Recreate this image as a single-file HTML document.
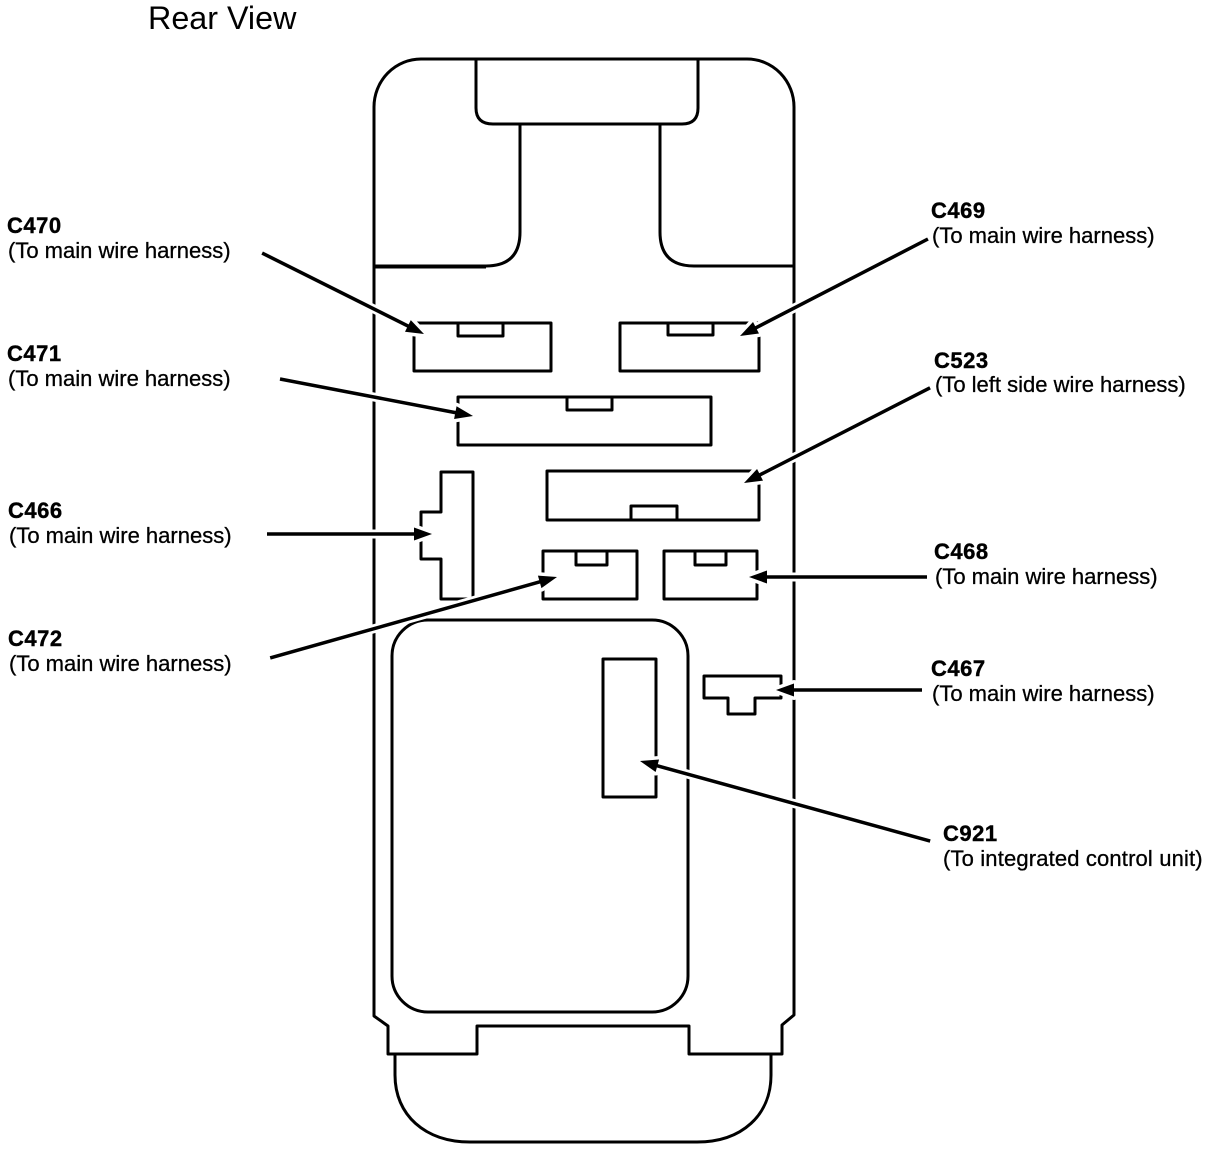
<!DOCTYPE html>
<html><head><meta charset="utf-8"><style>
html,body{margin:0;padding:0;background:#fff}
svg{display:block}
text{font-family:"Liberation Sans",sans-serif;font-size:22px;fill:#000;stroke:#000;stroke-width:.3px}
.b{font-weight:bold;letter-spacing:.5px;stroke-width:.4px}
.s{fill:none;stroke:#000;stroke-width:3;stroke-linejoin:round}
.h line{stroke:#fff;stroke-width:9}
.h path{fill:#fff;stroke:#fff;stroke-width:7;stroke-linejoin:round}
.k line{stroke:#000;stroke-width:3.5}
.k path{fill:#000}
</style></head><body>
<svg width="1216" height="1150" viewBox="0 0 1216 1150" xmlns="http://www.w3.org/2000/svg">
<text x="148" y="29" style="font-size:32.3px;stroke-width:0">Rear View</text>

<path class="s" d="M421 59H747A47 48 0 0 1 794 107V1015L782 1025V1054H689V1026H477V1054H388V1026L374 1016V107A47 48 0 0 1 421 59Z"/>
<path class="s" d="M476 59V108Q476 124 493 124H682Q698 124 698 108V59"/>
<path class="s" d="M520 124V232Q520 266 486 266H374M660 124V232Q660 266 694 266H794"/>
<path class="s" d="M374 267H486M694 266H794"/>
<path class="s" d="M395 1054V1075C395 1115 425 1142 470 1142H697C742 1142 771 1115 771 1075V1054"/>
<path class="s" d="M414 323H551V371H414ZM458 323V336H503V323"/>
<path class="s" d="M620 323H759V371H620ZM668 323V335H713V323"/>
<path class="s" d="M458 397H711V445H458ZM567 397V410H612V397"/>
<path class="s" d="M547 471H759V520H547ZM631 520V506H677V520"/>
<path class="s" d="M441 472H473V599H441V559H421V512H441Z"/>
<path class="s" d="M543 551H637V599H543ZM576 551V565H607V551"/>
<path class="s" d="M664 551H757V599H664ZM695 551V565H726V551"/>
<rect class="s" x="392" y="620" width="296" height="392" rx="36"/>
<rect class="s" x="603" y="659" width="53" height="138"/>
<path class="s" d="M704 676H781V698H755V714H728V698H704Z"/>

<g class="h">
<g transform="translate(424 334) rotate(26.57)"><line x1="-175" x2="-10"/><path d="M0 0L-18 -6.5V6.5Z"/></g>
<g transform="translate(740 336) rotate(152.7)"><line x1="-205" x2="-10"/><path d="M0 0L-18 -6.5V6.5Z"/></g>
<g transform="translate(473 416) rotate(10.85)"><line x1="-190" x2="-10"/><path d="M0 0L-18 -6.5V6.5Z"/></g>
<g transform="translate(744 483) rotate(152.9)"><line x1="-203" x2="-10"/><path d="M0 0L-18 -6.5V6.5Z"/></g>
<g transform="translate(432 534)"><line x1="-160" x2="-10"/><path d="M0 0L-18 -6.5V6.5Z"/></g>
<g transform="translate(557 577) rotate(-15.76)"><line x1="-292" x2="-10"/><path d="M0 0L-18 -6.5V6.5Z"/></g>
<g transform="translate(749 577) rotate(180)"><line x1="-172" x2="-10"/><path d="M0 0L-18 -6.5V6.5Z"/></g>
<g transform="translate(776 690) rotate(180)"><line x1="-140" x2="-10"/><path d="M0 0L-18 -6.5V6.5Z"/></g>
<g transform="translate(640 761) rotate(195.42)"><line x1="-295" x2="-10"/><path d="M0 0L-18 -6.5V6.5Z"/></g>
</g>
<g class="k">
<g transform="translate(424 334) rotate(26.57)"><line x1="-181" x2="-10"/><path d="M0 0L-18 -6.5V6.5Z"/></g>
<g transform="translate(740 336) rotate(152.7)"><line x1="-211.5" x2="-10"/><path d="M0 0L-18 -6.5V6.5Z"/></g>
<g transform="translate(473 416) rotate(10.85)"><line x1="-196.5" x2="-10"/><path d="M0 0L-18 -6.5V6.5Z"/></g>
<g transform="translate(744 483) rotate(152.9)"><line x1="-209" x2="-10"/><path d="M0 0L-18 -6.5V6.5Z"/></g>
<g transform="translate(432 534)"><line x1="-165" x2="-10"/><path d="M0 0L-18 -6.5V6.5Z"/></g>
<g transform="translate(557 577) rotate(-15.76)"><line x1="-298" x2="-10"/><path d="M0 0L-18 -6.5V6.5Z"/></g>
<g transform="translate(749 577) rotate(180)"><line x1="-178" x2="-10"/><path d="M0 0L-18 -6.5V6.5Z"/></g>
<g transform="translate(776 690) rotate(180)"><line x1="-146" x2="-10"/><path d="M0 0L-18 -6.5V6.5Z"/></g>
<g transform="translate(640 761) rotate(195.42)"><line x1="-301" x2="-10"/><path d="M0 0L-18 -6.5V6.5Z"/></g>
</g>

<text class="b" x="7" y="233">C470</text><text x="8" y="258">(To main wire harness)</text>
<text class="b" x="7" y="361">C471</text><text x="8" y="386">(To main wire harness)</text>
<text class="b" x="8" y="518">C466</text><text x="9" y="543">(To main wire harness)</text>
<text class="b" x="8" y="646">C472</text><text x="9" y="671">(To main wire harness)</text>
<text class="b" x="931" y="218">C469</text><text x="932" y="243">(To main wire harness)</text>
<text class="b" x="934" y="368">C523</text><text x="935" y="392">(To left side wire harness)</text>
<text class="b" x="934" y="559">C468</text><text x="935" y="584">(To main wire harness)</text>
<text class="b" x="931" y="676">C467</text><text x="932" y="701">(To main wire harness)</text>
<text class="b" x="943" y="841">C921</text><text x="943" y="866" style="letter-spacing:.15px">(To integrated control unit)</text>
</svg>
</body></html>
